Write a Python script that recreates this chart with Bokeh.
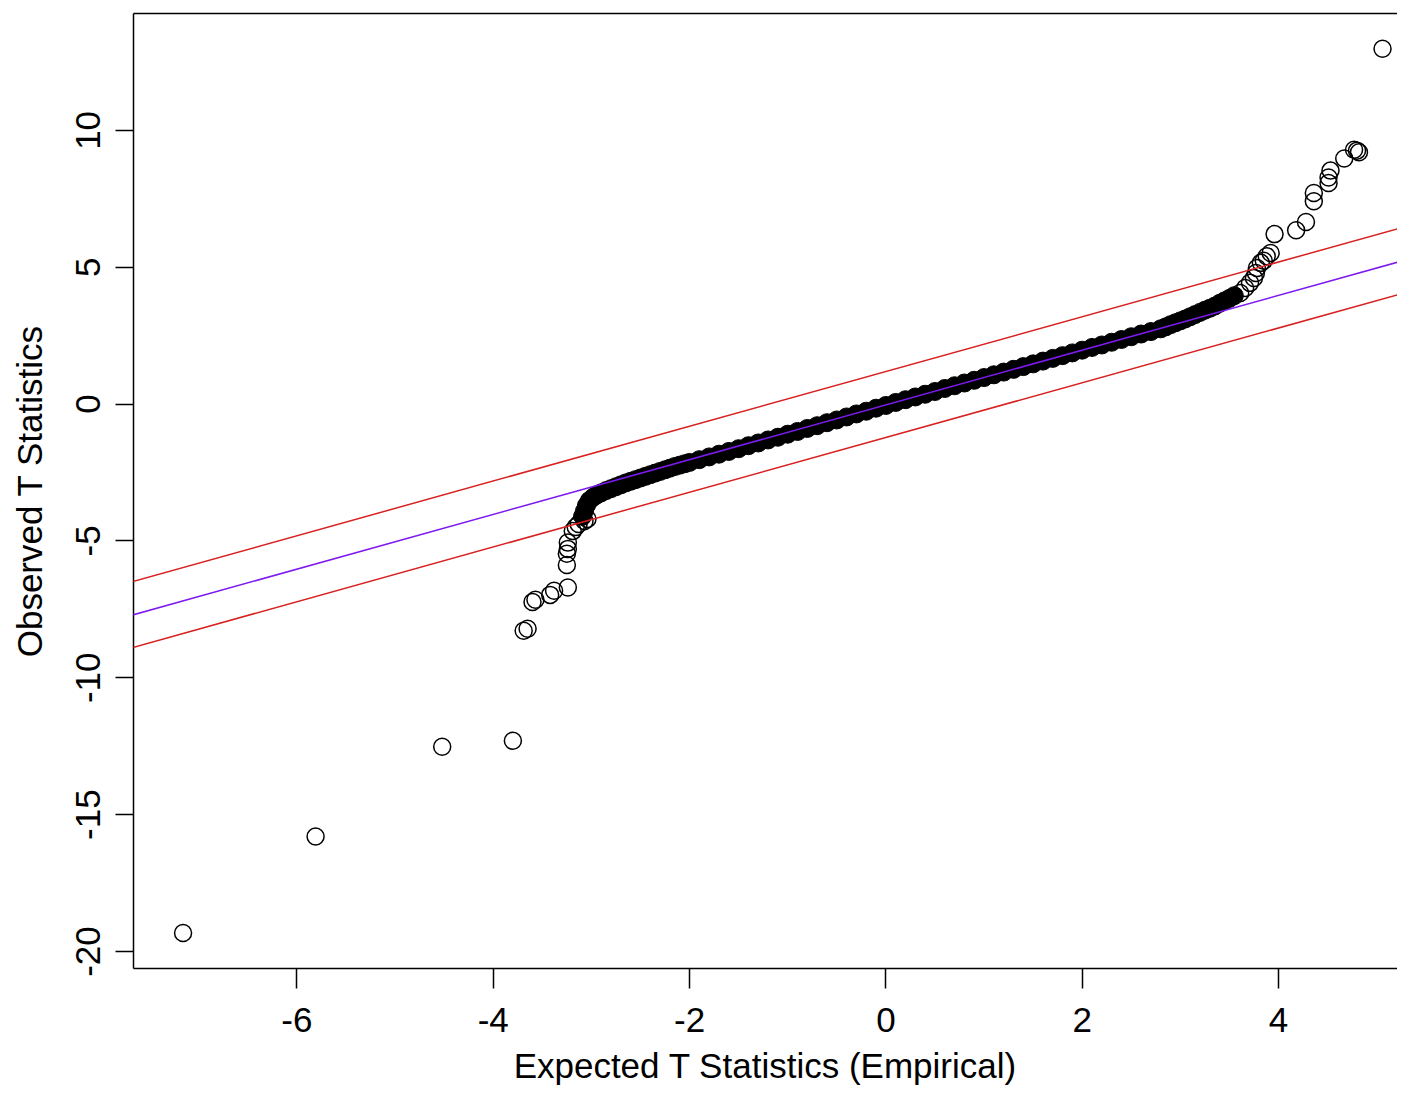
from bokeh.plotting import figure
from bokeh.models import Range1d, FixedTicker, Slope, LinearAxis
from bokeh.embed import file_html
from bokeh.resources import INLINE

# ---- data ----
# dense central part of the Q-Q curve (expected, observed)
band_x = [-3.09, -3.07, -3.05, -3.02, -2.98, -2.94, -2.90, -2.85, -2.80, -2.75, -2.70, -2.65,
          -2.60, -2.55, -2.50, -2.45, -2.40, -2.35, -2.30, -2.25, -2.20, -2.15, -2.10, -2.05,
          -2.0, -1.9, -1.8, -1.7, -1.6, -1.5, -1.4, -1.3, -1.2, -1.1, -1.0, -0.9, -0.8, -0.7,
          -0.6, -0.5, -0.4, -0.3, -0.2, -0.1, 0.0, 0.1, 0.2, 0.3, 0.4, 0.5, 0.6, 0.7, 0.8, 0.9,
          1.0, 1.1, 1.2, 1.3, 1.4, 1.5, 1.6, 1.7, 1.8, 1.9, 2.0, 2.1, 2.2, 2.3, 2.4, 2.5, 2.6,
          2.7, 2.8, 2.85, 2.90, 2.95, 3.00, 3.05, 3.10, 3.15, 3.20, 3.25, 3.30, 3.35, 3.40,
          3.45, 3.50, 3.55]
band_y = [-4.10, -3.90, -3.70, -3.52, -3.40, -3.31, -3.24, -3.16, -3.09, -3.02, -2.95, -2.88,
          -2.82, -2.76, -2.70, -2.64, -2.58, -2.52, -2.46, -2.40, -2.34, -2.28, -2.23, -2.18,
          -2.13, -2.03, -1.93, -1.83, -1.73, -1.63, -1.52, -1.42, -1.31, -1.21, -1.10, -1.00,
          -0.89, -0.79, -0.68, -0.58, -0.47, -0.36, -0.26, -0.15, -0.05, 0.06, 0.16, 0.26,
          0.36, 0.46, 0.57, 0.67, 0.77, 0.87, 0.97, 1.07, 1.17, 1.27, 1.37, 1.47, 1.57, 1.67,
          1.77, 1.87, 1.97, 2.07, 2.16, 2.26, 2.36, 2.46, 2.56, 2.65, 2.75, 2.82, 2.90, 2.97,
          3.04, 3.11, 3.19, 3.27, 3.35, 3.43, 3.50, 3.58, 3.68, 3.77, 3.86, 3.96]

# separated points in the lower tail
low_x = [-7.16, -5.81, -4.52, -3.80, -3.69, -3.65, -3.60, -3.57, -3.42, -3.38, -3.24, -3.25,
         -3.25, -3.24, -3.24, -3.19, -3.16, -3.13, -3.07, -3.04]
low_y = [-19.32, -15.80, -12.52, -12.30, -8.28, -8.21, -7.23, -7.15, -6.97, -6.82, -6.70,
         -5.88, -5.47, -5.29, -5.06, -4.64, -4.49, -4.38, -4.27, -4.20]

# separated points in the upper tail
high_x = [3.61, 3.66, 3.71, 3.75, 3.77, 3.78, 3.82, 3.85, 3.88, 3.92, 3.96, 4.18, 4.28, 4.36,
          4.36, 4.51, 4.51, 4.53, 4.67, 4.77, 4.80, 4.82, 5.06]
high_y = [4.06, 4.24, 4.43, 4.61, 4.79, 4.97, 5.16, 5.24, 5.40, 5.52, 6.21, 6.35, 6.65, 7.41,
          7.71, 8.08, 8.28, 8.53, 8.97, 9.29, 9.26, 9.20, 12.98]

# reference lines: y = slope * x + intercept
line_slope = 1.0
center_intercept = -0.03
band_intercepts = [1.19, -1.22]

x_ticks = [-6, -4, -2, 0, 2, 4]
x_tick_labels = ["-6", "-4", "-2", "0", "2", "4"]
y_ticks = [-20, -15, -10, -5, 0, 5, 10]
y_tick_labels = ["-20", "-15", "-10", "-5", "0", "5", "10"]

x_label = "Expected T Statistics (Empirical)"
y_label = "Observed T Statistics"

FONT = "Liberation Sans"
FS = "35px"

p = figure(width=1397, height=1087,
           x_range=Range1d(-7.665, 5.2125), y_range=Range1d(-20.62, 14.27),
           output_backend="svg", toolbar_location=None,
           min_border_left=133, min_border_right=0, min_border_top=13, min_border_bottom=119)

p.outline_line_color = None
p.background_fill_color = "white"
p.border_fill_color = "white"
p.xgrid.grid_line_color = None
p.ygrid.grid_line_color = None

for ax, ticks, labels, tick_len, std, lstd in (
        (p.xaxis[0], x_ticks, x_tick_labels, 20, 19, 11),
        (p.yaxis[0], y_ticks, y_tick_labels, 18, 15, 25)):
    ax.ticker = FixedTicker(ticks=ticks)
    ax.major_label_overrides = dict(zip(ticks, labels))
    ax.minor_tick_line_color = None
    ax.major_tick_out = tick_len
    ax.major_tick_in = 0
    ax.major_tick_line_color = "black"
    ax.major_tick_line_width = 1.5
    ax.axis_line_color = "black"
    ax.axis_line_width = 1.5
    ax.major_label_text_font = FONT
    ax.major_label_text_font_size = FS
    ax.major_label_text_color = "black"
    ax.major_label_standoff = std
    ax.axis_label_text_font = FONT
    ax.axis_label_text_font_size = FS
    ax.axis_label_text_font_style = "normal"
    ax.axis_label_text_color = "black"
    ax.axis_label_standoff = lstd

p.xaxis.axis_label = x_label
p.yaxis.axis_label = y_label
p.yaxis.major_label_orientation = "vertical"

# top border of the box
top = LinearAxis(ticker=FixedTicker(ticks=[]), major_tick_out=0, major_tick_in=0,
                 minor_tick_line_color=None, major_label_standoff=0,
                 axis_line_color="black", axis_line_width=1.5)
p.add_layout(top, "above")

# dense part (overlapping circles render as a solid band)
p.scatter(band_x, band_y, marker="circle", size=18, fill_color="black",
          line_color="black", line_width=1)
# separated tail points
p.scatter(low_x, low_y, marker="circle", size=17, fill_color=None,
          line_color="black", line_width=1.5)
p.scatter(high_x, high_y, marker="circle", size=17, fill_color=None,
          line_color="black", line_width=1.5)

p.add_layout(Slope(gradient=line_slope, y_intercept=center_intercept,
                   line_color="#7D1AF0", line_width=1.5))
for b in band_intercepts:
    p.add_layout(Slope(gradient=line_slope, y_intercept=b,
                       line_color="#D92020", line_width=1.5))

open("out.html", "w").write(file_html(p, INLINE))
